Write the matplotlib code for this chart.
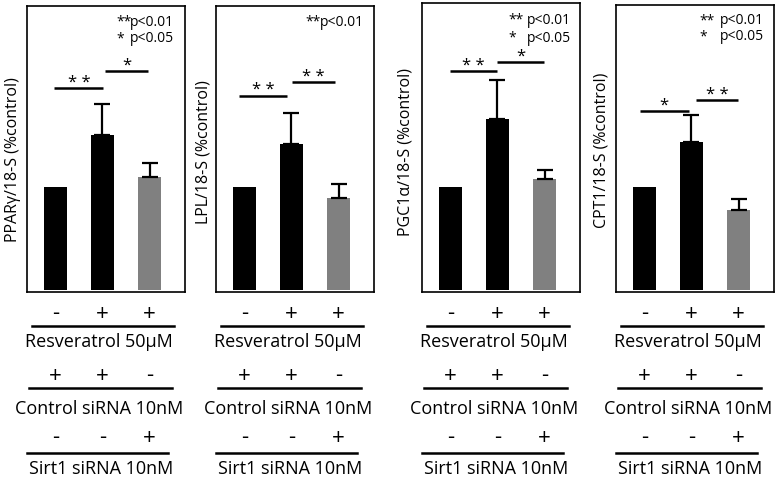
import matplotlib.pyplot as plt
from matplotlib.transforms import blended_transform_factory

plt.rcParams['font.family'] = ['Open Sans', 'DejaVu Sans']

# data (bar 1 = 100 %)
genes = ["PPARγ", "LPL", "PGC1α", "CPT1"]
ylabels = ["PPARγ/18-S (%control)", "LPL/18-S (%control)",
           "PGC1α/18-S (%control)", "CPT1/18-S (%control)"]
means = [[100, 151, 110], [100, 142, 89], [100, 166, 108], [100, 144, 78]]
errs = [[0, 30, 13], [0, 30, 14], [0, 38, 9], [0, 26, 10]]
bar_colors = ["black", "black", "#808080"]

# significance marks: (left group, right group)
sig_left = ["**", "**", "**", "*"]
sig_right = ["*", "**", "*", "**"]
legend_lines = [["**", "*"], ["**"], ["**", "*"], ["**", "*"]]
legend_p = [["p<0.01", "p<0.05"], ["p<0.01"], ["p<0.01", "p<0.05"], ["p<0.01", "p<0.05"]]

row_names = ["Resveratrol 50μM", "Control siRNA 10nM", "Sirt1 siRNA 10nM"]
row_signs = [["-", "+", "+"], ["+", "+", "-"], ["-", "-", "+"]]

# layout (pixels)
W, H = 779, 478
lefts = [27, 216, 422, 616]
tops = [6, 6, 3, 5]
ylab_x = [13, 203, 405, 602]
ylab_y = [160, 152, 152, 150]
# bracket heights in data units: left, right
br_y = [(196, 213), (189, 202), (213, 222), (174, 185)]
br_x = [((-0.02, 1.02), (1.06, 1.96)), ((-0.11, 0.91), (1.01, 1.93)),
        ((-0.01, 1.0), (1.0, 1.98)), ((-0.1, 0.94), (1.1, 1.99))]
leg_star_x = [116, 305, 508, 699]
leg_p_x = [174, 364, 571, 764]
leg_y = [[22, 39], [22], [20, 38], [21, 37]]

fig = plt.figure(figsize=(W / 100, H / 100), dpi=100)

x = [0, 1, 2]
for i in range(4):
    top = tops[i]
    ax = fig.add_axes([lefts[i] / W, (H - 292) / H, 158 / W, (292 - top) / H])
    ax.bar(x, means[i], width=0.5, color=bar_colors)
    ax.errorbar(x[1:], means[i][1:], yerr=[[0, 0], errs[i][1:]], fmt='none',
                ecolor='black', elinewidth=1.6, capsize=6, capthick=1.6)
    ax.set_xlim(-0.6, 2.75)
    ax.set_ylim(-2, (290 - top) / 1.029)
    ax.set_xticks([])
    ax.set_yticks([])
    for s in ax.spines.values():
        s.set_linewidth(1.2)

    # brackets
    for (x0, x1), yy, lab in zip(br_x[i], br_y[i], [sig_left[i], sig_right[i]]):
        ax.plot([x0, x1], [yy, yy], color='black', lw=1.8, solid_capstyle='butt')
        ax.text((x0 + x1) / 2, yy + 1, lab.replace("**", "* *"), ha='center',
                va='baseline', fontsize=12)

    # p-value legend
    for st, pv, yy in zip(legend_lines[i], legend_p[i], leg_y[i]):
        fig.text(leg_star_x[i] / W, 1 - yy / H, st, ha='left', va='center', fontsize=10)
        fig.text(leg_p_x[i] / W, 1 - yy / H, pv, ha='right', va='center', fontsize=10)

    fig.text(ylab_x[i] / W, 1 - ylab_y[i] / H, ylabels[i], rotation=90,
             ha='center', va='center', fontsize=11.5)

    # treatment table below the panel
    tr = blended_transform_factory(ax.transData, fig.transFigure)
    sign_y = [314, 376, 438]
    line_y = [326, 388, 453]
    name_y = [342, 409, 469]
    line_x = [(-0.49, 2.51), (-0.55, 2.47), (-0.6, 2.4)]
    name_x = [0.92, 0.92, 0.98]
    for r in range(3):
        for k in range(3):
            ax.text(x[k], 1 - sign_y[r] / H, row_signs[r][k], transform=tr,
                    ha='center', va='center', fontsize=16)
        ax.plot(line_x[r], [1 - line_y[r] / H] * 2, transform=tr, color='black',
                lw=1.8, clip_on=False)
        ax.text(name_x[r], 1 - name_y[r] / H, row_names[r], transform=tr,
                ha='center', va='center', fontsize=13)

fig.savefig("out.png", dpi=100)
